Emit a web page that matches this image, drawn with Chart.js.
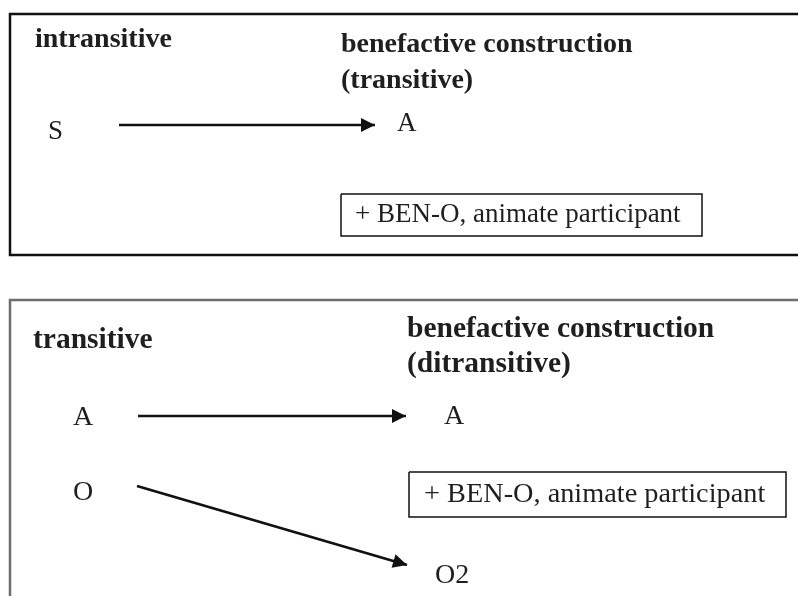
<!DOCTYPE html>
<html lang="en">
<head>
  <meta charset="UTF-8">
  <title>Benefactive construction</title>
  <style>
    body {
      margin: 0;
      background-color: #fff;
    }
    #diagram {
      display: block;
    }
  </style>
  <script src="https://cdn.jsdelivr.net/npm/chart.js"></script>
</head>
<body>
<canvas id="diagram" width="798" height="596"></canvas>

<script>
  // Headings of the two panels
  const headText = ['intransitive', 'benefactive construction', '(transitive)',
                    'transitive', 'benefactive construction', '(ditransitive)'];
  const headX = [35, 341, 341, 33, 407, 407];
  const headY = [47, 52, 88, 348, 337, 372];

  // Grammatical roles
  const roleText = ['S', 'A', 'A', 'O', 'A', 'O2'];
  const roleX = [48, 397, 73, 73, 444, 435];
  const roleY = [139, 131, 425, 500, 424, 583];

  // "+ BEN-O" notes
  const noteText = ['+ BEN-O, animate participant', '+ BEN-O, animate participant'];
  const noteBox = [[341, 194, 702, 236], [409, 472, 786, 517]];
  const noteX = [355, 424];
  const noteY = [222, 502];

  // Arrows: start and tip
  const arrowFrom = [[119, 125], [138, 416], [137, 486]];
  const arrowTo = [[375, 125], [406, 416], [407, 565]];

  // Panel frames
  const frameTop = [[798, 14], [10, 14], [10, 255], [798, 255]];
  const frameBottom = [[798, 300], [10, 300], [10, 596]];

  const ink = '#1f1f1f';
  const panelSize = [28, 29.5];
  const roleSize = [27, 27, 28, 28, 28, 28];
  const noteSize = [27, 28.3];

  const pts = list => list.map(p => ({ x: p[0], y: p[1] }));

  const datasets = [];
  datasets.push({ data: pts(frameTop), borderColor: '#111', borderWidth: 2.5 });
  datasets.push({ data: pts(frameBottom), borderColor: '#6e6e6e', borderWidth: 2.5 });
  noteBox.forEach(b => {
    datasets.push({
      data: pts([[b[0], b[1]], [b[2], b[1]], [b[2], b[3]], [b[0], b[3]], [b[0], b[1]]]),
      borderColor: '#111', borderWidth: 1.5
    });
  });
  arrowFrom.forEach((a, i) => {
    datasets.push({ data: pts([a, arrowTo[i]]), borderColor: '#111', borderWidth: 2.7 });
  });

  // Draws arrow heads and all the texts through the scales
  const diagramPlugin = {
    id: 'diagram',
    afterDatasetsDraw(chart) {
      const ctx = chart.ctx;
      const sx = chart.scales.x, sy = chart.scales.y;
      ctx.save();

      // arrow heads
      ctx.fillStyle = '#111';
      arrowFrom.forEach((a, i) => {
        const x0 = sx.getPixelForValue(a[0]), y0 = sy.getPixelForValue(a[1]);
        const x1 = sx.getPixelForValue(arrowTo[i][0]), y1 = sy.getPixelForValue(arrowTo[i][1]);
        const ang = Math.atan2(y1 - y0, x1 - x0);
        ctx.save();
        ctx.translate(x1, y1);
        ctx.rotate(ang);
        ctx.beginPath();
        ctx.moveTo(0, 0);
        ctx.lineTo(-14, -7);
        ctx.lineTo(-14, 7);
        ctx.closePath();
        ctx.fill();
        ctx.restore();
      });

      ctx.fillStyle = ink;
      ctx.textBaseline = 'alphabetic';
      ctx.textAlign = 'left';

      headText.forEach((t, i) => {
        ctx.font = 'bold ' + panelSize[i < 3 ? 0 : 1] + 'px "Liberation Serif"';
        ctx.fillText(t, sx.getPixelForValue(headX[i]), sy.getPixelForValue(headY[i]));
      });

      roleText.forEach((t, i) => {
        ctx.font = roleSize[i] + 'px "Liberation Serif"';
        ctx.fillText(t, sx.getPixelForValue(roleX[i]), sy.getPixelForValue(roleY[i]));
      });

      noteText.forEach((t, i) => {
        ctx.font = noteSize[i] + 'px "Liberation Serif"';
        ctx.fillText(t, sx.getPixelForValue(noteX[i]), sy.getPixelForValue(noteY[i]));
      });

      ctx.restore();
    }
  };

  new Chart(document.getElementById('diagram').getContext('2d'), {
    type: 'scatter',
    data: { datasets: datasets.map(d => Object.assign({
      showLine: true, pointRadius: 0, fill: false, tension: 0, clip: false
    }, d)) },
    options: {
      responsive: false,
      animation: false,
      layout: { padding: 0 },
      plugins: { legend: { display: false }, tooltip: { enabled: false } },
      scales: {
        x: { type: 'linear', min: 0, max: 798, display: false },
        y: { type: 'linear', min: 0, max: 596, reverse: true, display: false }
      }
    },
    plugins: [diagramPlugin]
  });
</script>
</body>
</html>
